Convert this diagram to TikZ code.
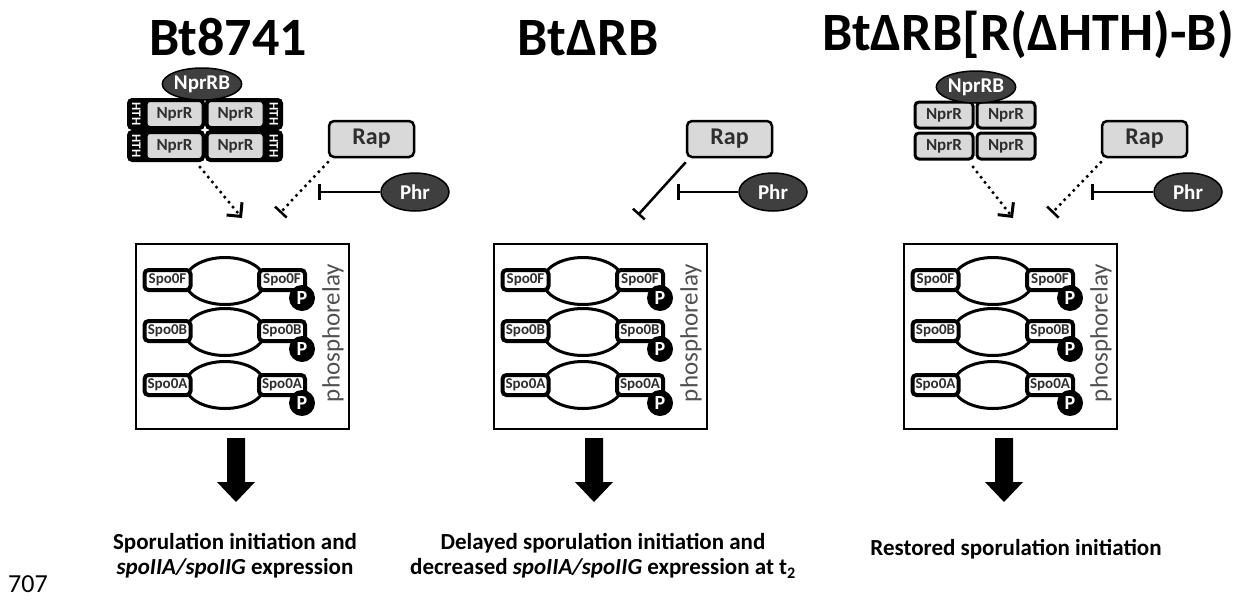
\documentclass[tikz,border=0pt]{standalone}
\usepackage{fontspec}
\setmainfont{Carlito}
\usetikzlibrary{arrows.meta}
\usetikzlibrary{shapes}

\definecolor{boxgrey}{HTML}{D9D9D9}
\definecolor{darkfill}{HTML}{3F3F3F}
\definecolor{txtgrey}{HTML}{2E2E2E}
\definecolor{relaygrey}{HTML}{505050}

\newcommand{\fsz}[1]{\fontsize{#1}{#1}\selectfont}

\tikzset{
  title/.style={font=\fsz{54}\bfseries, inner sep=0pt},
  caption/.style={font=\fontsize{23}{25}\selectfont\bfseries, align=center, inner sep=0pt},
  hthframe/.style={fill=black, rounded corners=5pt, minimum width=78pt, minimum height=32pt, inner sep=0pt},
  hthtext/.style={text=white, font=\fsz{13}\bfseries, rotate=-90, inner sep=0pt},
  nprrbox/.style={fill=boxgrey, draw=black, line width=1pt, rounded corners=3pt, minimum width=55pt, minimum height=25pt, inner sep=0pt, font=\fsz{17}\bfseries, text=txtgrey},
  nprbox/.style={fill=boxgrey, draw=black, line width=3pt, rounded corners=4pt, minimum width=58pt, minimum height=26pt, inner sep=0pt, font=\fsz{17}\bfseries, text=txtgrey},
  nprrb/.style={ellipse, fill=darkfill, draw=black, line width=1.5pt, minimum width=74pt, minimum height=32pt, inner sep=0pt, text=white, font=\fsz{21}\bfseries},
  rapbox/.style={fill=boxgrey, draw=black, line width=2.5pt, rounded corners=5pt, minimum width=85pt, minimum height=36pt, inner sep=0pt, font=\fsz{24}\bfseries, text=txtgrey},
  phrell/.style={ellipse, fill=darkfill, draw=black, line width=1.5pt, minimum width=68pt, minimum height=38pt, inner sep=0pt, text=white, font=\fsz{21}\bfseries},
  relaybox/.style={draw=black, line width=2pt, minimum width=213pt, minimum height=185pt, inner sep=0pt},
  barrel/.style={ellipse, draw=black, line width=3pt, fill=white, minimum width=80pt, minimum height=47pt, inner sep=0pt},
  spobox/.style={draw=black, line width=4pt, rounded corners=4pt, fill=white, minimum width=46pt, minimum height=20pt, inner sep=0pt, font=\fsz{15}\bfseries, text=txtgrey},
  pball/.style={circle, fill=black, minimum size=26pt, inner sep=0pt, text=white, font=\fsz{20}\bfseries},
  relaytext/.style={rotate=90, text=relaygrey, font=\fsz{25}, inner sep=0pt},
  dots/.style={line width=3.5pt, dash pattern=on 0pt off 6.5pt, line cap=round},
  act/.style={dots, -{Straight Barb[length=10pt,width=20pt,line width=3pt]}},
  inh/.style={-{Bar[width=16pt,line width=2.5pt]}}
}

% one NprR unit with its HTH strip: name, x, y, shift of the grey box
\newcommand{\nprunit}[4]{
  \node[hthframe] (#1) at (#2,#3) {};
  \node[nprrbox] (#1r) at ({#2+#4},#3) {NprR};
  \node[hthtext] (#1h) at ({#2-3.5*#4},#3) {HTH};
}

% the phosphorelay box with its arrow below
\newcommand{\relay}{
  \node[relaybox] (box) at (242.5,336.5) {};
  \foreach \n/\y in {f/281,b/332,a/385}
    \node[barrel] (barrel\n) at (225,\y) {};
  \foreach \n/\y/\l in {f/280/F,b/331/B,a/385/A}{
    \node[spobox] (left\n) at (167.5,\y) {Spo0\l};
    \node[spobox] (right\n) at (282,\y) {Spo0\l};
    \node[pball] (p\n) at (302,\y+18) {P};
  }
  \node[relaytext] (plabel) at (333,333) {phosphorelay};
  \fill (227,438) -- (245,438) -- (245,482) -- (255,482) -- (236,502) -- (217,482) -- (227,482) -- cycle;
}

\begin{document}
\begin{tikzpicture}[x=1pt, y=-1pt]
  \useasboundingbox (0,0) rectangle (1247,600);

  % titles
  \node[title, anchor=base] (t1) at (228,55) {Bt8741};
  \node[title, anchor=base] (t2) at (588,55) {BtΔRB};
  \node[title, anchor=base] (t3) at (1028,50) {BtΔRB[R(ΔHTH)-B)};

  % panel 1
  \begin{scope}[name prefix=p1-]
    \nprunit{tl}{166}{114}{8.5}
    \nprunit{bl}{166}{146}{8.5}
    \nprunit{tr}{244}{114}{-8.5}
    \nprunit{br}{244}{146}{-8.5}
    \node[nprrb] (nprrb) at (202,84) {NprRB};
    \coordinate (nprfoot) at (200,167);
    \coordinate (acthead) at (242,218);
    \draw[act] (nprfoot) -- (acthead);

    \node[rapbox] (rap) at (371.5,139) {Rap};
    \coordinate (rapend) at (280,213);
    \draw[dots, inh] ([yshift=-4pt]rap.south west) -- (rapend);
    \node[phrell] (phr) at (415,192) {Phr};
    \coordinate (phrend) at (318,192);
    \draw[inh, line width=2pt] (phr.west) -- (phrend);

    \relay
  \end{scope}

  % panel 2
  \begin{scope}[xshift=358pt, name prefix=p2-]
    \node[rapbox] (rap) at (371.5,139) {Rap};
    \coordinate (rapend) at (280,215);
    \draw[inh, line width=2.5pt] ([yshift=-4pt]rap.south west) -- (rapend);
    \node[phrell] (phr) at (415,192) {Phr};
    \coordinate (phrend) at (319,192);
    \draw[inh, line width=2pt] (phr.west) -- (phrend);

    \relay
  \end{scope}

  % panel 3
  \begin{scope}[xshift=768pt, name prefix=p3-]
    \node[nprbox] (tl) at (176,115) {NprR};
    \node[nprbox] (tr) at (238,115) {NprR};
    \node[nprbox] (bl) at (176,146) {NprR};
    \node[nprbox] (br) at (238,146) {NprR};
    \node[nprrb] (nprrb) at (208,87) {NprRB};
    \coordinate (nprfoot) at (205,167);
    \coordinate (acthead) at (245,218);
    \draw[act] (nprfoot) -- (acthead);

    \node[rapbox] (rap) at (376.5,139) {Rap};
    \coordinate (rapend) at (284,213);
    \draw[dots, inh] ([yshift=-4pt]rap.south west) -- (rapend);
    \node[phrell] (phr) at (420,192) {Phr};
    \coordinate (phrend) at (323,192);
    \draw[inh, line width=2pt] (phr.west) -- (phrend);

    \relay
  \end{scope}

  % captions
  \node[caption] (c1) at (235,556) {Sporulation initiation and\\\textit{spoIIA/spoIIG} expression};
  \node[caption] (c2) at (603,556) {Delayed sporulation initiation and\\decreased \textit{spoIIA/spoIIG} expression at t\textsubscript{2}};
  \node[caption] (c3) at (1016,549) {Restored sporulation initiation};

  \node[font=\fsz{26}, inner sep=0pt] (lineno) at (28,584) {707};
\end{tikzpicture}
\end{document}
